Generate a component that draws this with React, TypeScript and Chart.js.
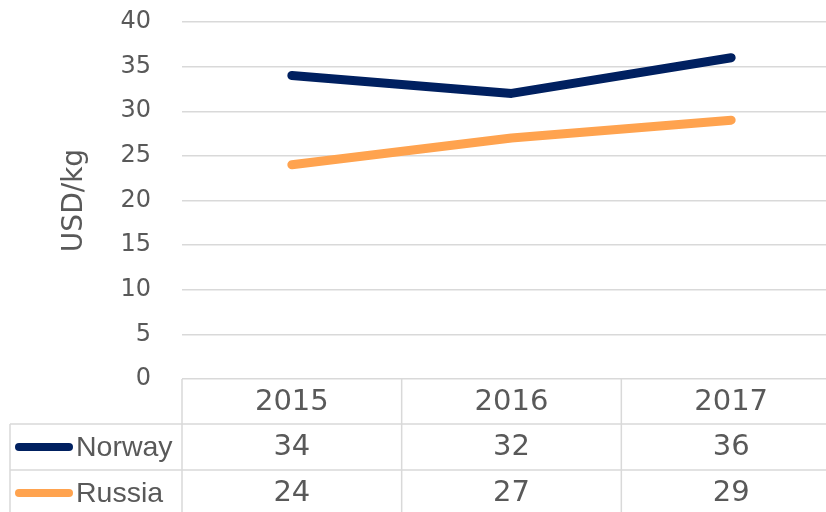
import React, { useEffect, useRef } from "react";
import { Chart, registerables } from "chart.js";

Chart.register(...registerables);

const years = ["2015", "2016", "2017"];
const norway = [34, 32, 36];
const russia = [24, 27, 29];
const seriesNames = ["Norway", "Russia"];
const seriesColors = ["#002060", "#FFA34F"];
const yMin = 0;
const yMax = 40;
const yStep = 5;
const yTitle = "USD/kg";

const TEXT = "#595959";
const GRID = "#d9d9d9";

const tablePlugin = {
  id: "dataTable",
  afterDraw(chart: any) {
    const { ctx, chartArea, scales } = chart;
    const xs = scales.x;
    const top = chartArea.bottom;
    const right = chartArea.right;
    const leftEdge = 10;
    const r1 = top + 45;
    const r2 = r1 + 46;
    const r3 = r2 + 46;
    const half = (xs.getPixelForValue(1) - xs.getPixelForValue(0)) / 2;
    ctx.save();
    ctx.strokeStyle = GRID;
    ctx.lineWidth = 1.5;
    const seg = (x1: number, y1: number, x2: number, y2: number) => {
      ctx.beginPath();
      ctx.moveTo(x1, y1);
      ctx.lineTo(x2, y2);
      ctx.stroke();
    };
    seg(leftEdge, r1, right, r1);
    seg(leftEdge, r2, right, r2);
    seg(leftEdge, r1, leftEdge, r3);
    for (let i = 0; i <= years.length; i++) {
      const bx = xs.getPixelForValue(0) - half + i * 2 * half;
      seg(bx, top, bx, r3);
    }
    ctx.fillStyle = TEXT;
    ctx.textAlign = "center";
    ctx.textBaseline = "middle";
    ctx.font = "29px 'DejaVu Sans'";
    years.forEach((y, i) => {
      ctx.fillText(y, xs.getPixelForValue(i), top + 23);
    });
    const rows = [norway, russia];
    const rowY = [r1 + 23, r2 + 23];
    rows.forEach((vals, ri) => {
      ctx.textAlign = "center";
      ctx.font = "29px 'DejaVu Sans'";
      ctx.fillStyle = TEXT;
      vals.forEach((v, i) => {
        ctx.fillText(String(v), xs.getPixelForValue(i), rowY[ri]);
      });
      ctx.strokeStyle = seriesColors[ri];
      ctx.lineWidth = 8;
      ctx.lineCap = "round";
      seg(19, rowY[ri], 69, rowY[ri]);
      ctx.textAlign = "left";
      ctx.font = "28.5px 'Liberation Sans'";
      ctx.fillText(seriesNames[ri], 76, rowY[ri] + 1);
    });
    ctx.restore();
  },
};

export default function App() {
  const ref = useRef<HTMLCanvasElement>(null);
  useEffect(() => {
    if (!ref.current) return;
    const chart = new Chart(ref.current, {
      type: "line",
      data: {
        labels: years,
        datasets: [
          {
            label: seriesNames[0],
            data: norway,
            borderColor: seriesColors[0],
            backgroundColor: seriesColors[0],
            borderWidth: 9,
            borderCapStyle: "round",
            borderJoinStyle: "round",
            pointRadius: 0,
            tension: 0,
          },
          {
            label: seriesNames[1],
            data: russia,
            borderColor: seriesColors[1],
            backgroundColor: seriesColors[1],
            borderWidth: 9,
            borderCapStyle: "round",
            borderJoinStyle: "round",
            pointRadius: 0,
            tension: 0,
          },
        ],
      },
      options: {
        animation: false,
        responsive: false,
        devicePixelRatio: 1,
        layout: { padding: { top: 22, bottom: 133, left: 0, right: 0 } },
        plugins: { legend: { display: false }, tooltip: { enabled: false } },
        scales: {
          x: { type: "category", offset: true, display: false },
          y: {
            min: yMin,
            max: yMax,
            ticks: {
              stepSize: yStep,
              padding: 31,
              color: TEXT,
              font: { family: "'DejaVu Sans'", size: 24 },
            },
            grid: { color: GRID, lineWidth: 1.5, drawTicks: false },
            border: { display: false },
            title: {
              display: true,
              text: yTitle,
              color: TEXT,
              font: { family: "'DejaVu Sans'", size: 28, lineHeight: 1 },
              padding: { top: 61, bottom: 0 },
            },
            afterFit: (s: any) => {
              s.width = 182;
              s.paddingTop = 0;
              s.paddingBottom = 0;
            },
          },
        },
      },
      plugins: [tablePlugin],
    } as any);
    return () => chart.destroy();
  }, []);
  return (
    <div
      style={{
        position: "fixed",
        left: 0,
        top: 0,
        width: 826,
        height: 512,
        overflow: "hidden",
        background: "#fff",
      }}
    >
      <canvas ref={ref} width={841} height={512} style={{ width: 841, height: 512, display: "block" }} />
    </div>
  );
}
